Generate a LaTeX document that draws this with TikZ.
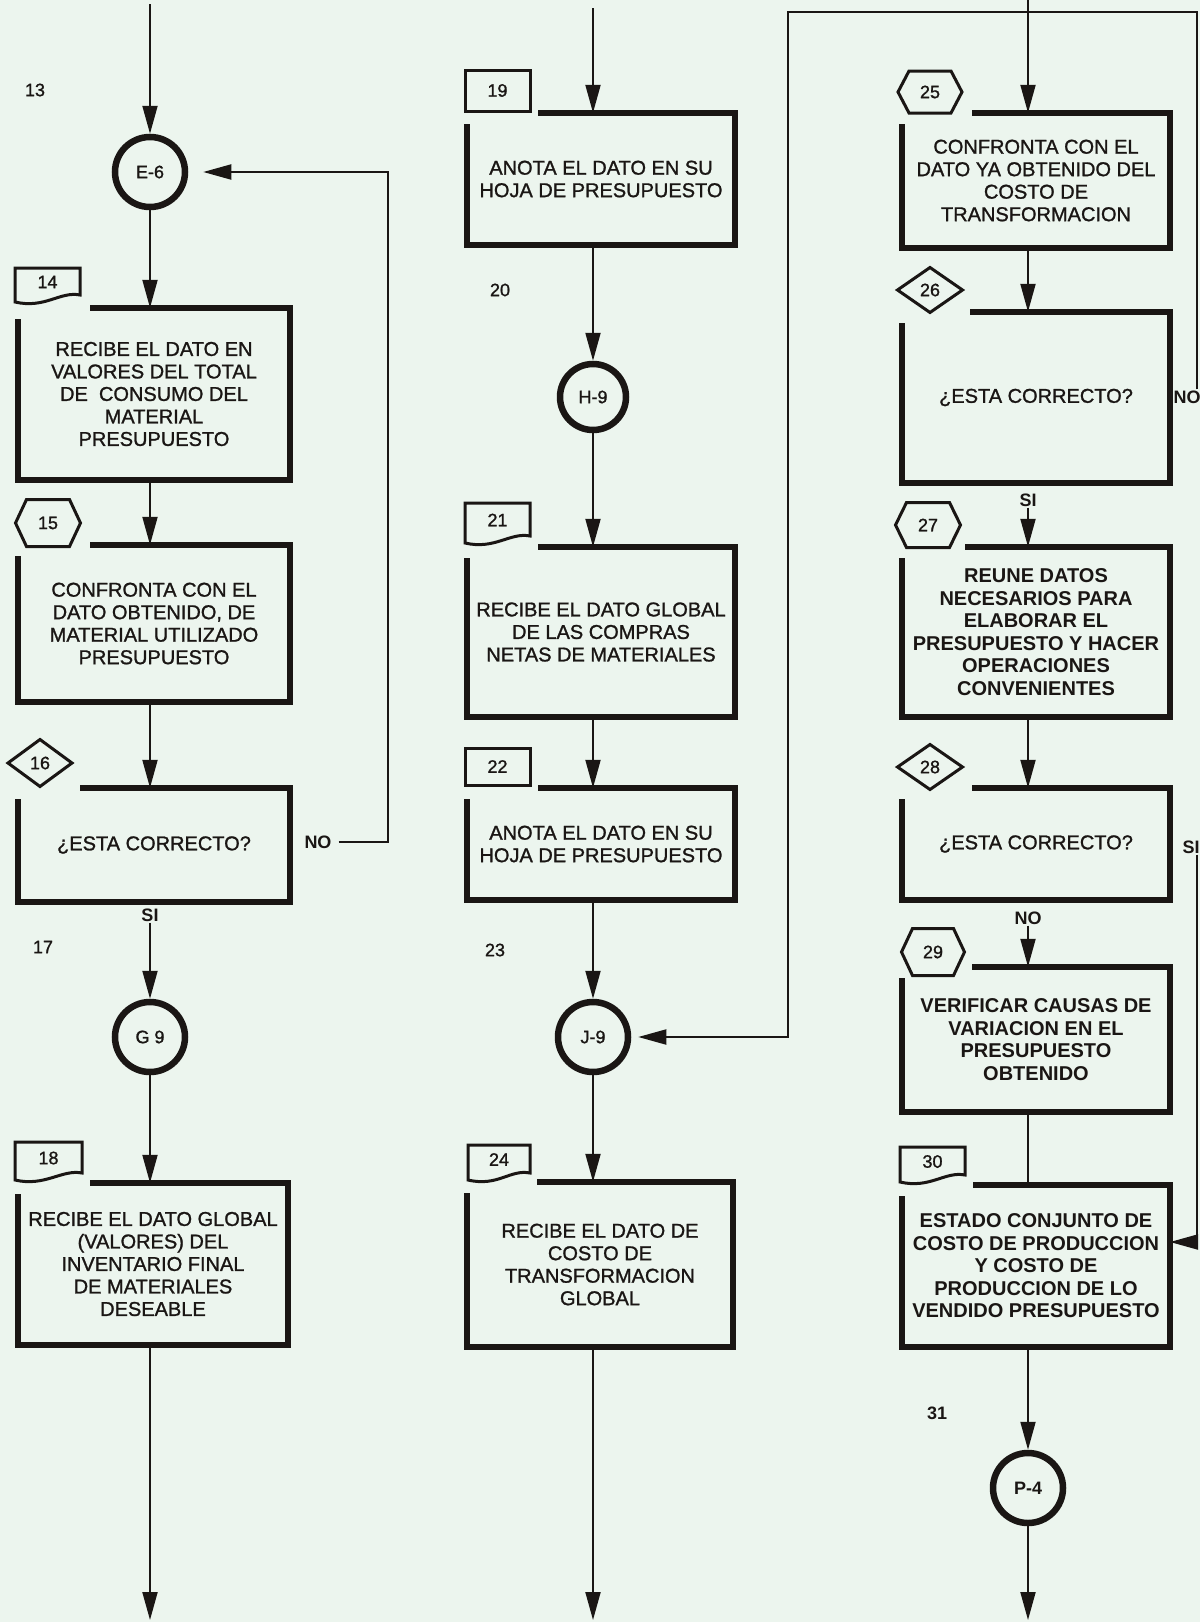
\documentclass[tikz,border=0pt]{standalone}
\usepackage{fontspec}
\setmainfont{Liberation Sans}
\newfontfamily\medfont{Liberation Sans}[BoldFont={Liberation Sans},BoldFeatures={FakeBold=1.2}]
\usetikzlibrary{arrows.meta,calc}
\definecolor{paper}{RGB}{236,245,238}
\definecolor{ink}{RGB}{26,22,20}
\tikzset{
  frame/.style={draw=ink, line width=5.5pt, line join=miter},
  lab/.style={draw=ink, line width=3pt, line join=miter},
  conn/.style={draw=ink, line width=2pt},
  arr/.style={conn, -{Triangle[length=28pt,width=15pt]}},
  boxtext/.style={align=center, inner sep=0pt, text=ink, font=\fontsize{20}{22.5}\selectfont\medfont\bfseries},
  boxbold/.style={boxtext, font=\fontsize{20}{22.5}\selectfont\bfseries},
  tabtext/.style={inner sep=0pt, text=ink, font=\fontsize{18}{18}\selectfont\medfont\bfseries},
  lbl/.style={inner sep=1pt, text=ink, font=\fontsize{18}{18}\selectfont\bfseries},
  numtext/.style={inner sep=0pt, text=ink, font=\fontsize{18}{18}\selectfont\medfont\bfseries},
  conncirc/.style={circle, draw=ink, line width=6.5pt, minimum size=70pt, inner sep=0pt, text=ink, font=\fontsize{18}{18}\selectfont\medfont\bfseries}
}
\newcommand\procbox[8]{%
  \node[#7,minimum width={#4-#2},minimum height={#5-#3}] (#1) at ({(#2+#4)/2},{(#3+#5)/2}) {#8};
  \draw[frame] ({#6},{#3}) -- ({#4},{#3}) -- ({#4},{#5}) -- ({#2},{#5}) -- ({#2},{#3+11});
}
\newcommand\mkdoc[6]{%
  \node[tabtext] (#1) at ({(#2+#4)/2},{(#3+#5)/2-3}) {#6};
  \draw[lab] ({#2},{#5}) -- ({#2},{#3}) -- ({#4},{#3}) -- ({#4},{#5-7}) .. controls ({#4-20},{#5-11}) and ({#2+30},{#5+7}) .. ({#2},{#5}) -- cycle;
}
\newcommand\mkrect[6]{%
  \node[tabtext] (#1) at ({(#2+#4)/2},{(#3+#5)/2}) {#6};
  \draw[lab] ({#2},{#3}) rectangle ({#4},{#5});
}
\newcommand\mkhex[6]{%
  \node[tabtext] (#1) at ({#2},{#3}) {#6};
  \draw[lab] ({#2-#4/2},{#3}) -- ({#2-#4/2+11},{#3-#5/2}) -- ({#2+#4/2-11},{#3-#5/2}) -- ({#2+#4/2},{#3}) -- ({#2+#4/2-11},{#3+#5/2}) -- ({#2-#4/2+11},{#3+#5/2}) -- cycle;
}
\newcommand\mkdiam[6]{%
  \node[tabtext] (#1) at ({#2},{#3}) {#6};
  \draw[lab] ({#2-#4/2},{#3}) -- ({#2},{#3-#5/2}) -- ({#2+#4/2},{#3}) -- ({#2},{#3+#5/2}) -- cycle;
}
\begin{document}
\begin{tikzpicture}[x=1pt,y=-1pt]
\fill[paper] (0,0) rectangle (1200,1622);
\useasboundingbox (0,0) rectangle (1200,1622);

% ---------------- column 1 ----------------
\node[numtext] (n13) at (35,90) {13};
\node[conncirc] (e6) at (150,172) {E-6};
\mkdoc{t14}{15}{268}{80}{302}{14}
\procbox{b14}{18}{308}{290}{480}{90}{boxtext}{RECIBE EL DATO EN\\VALORES DEL TOTAL\\DE\ \ CONSUMO DEL\\MATERIAL\\PRESUPUESTO}
\mkhex{t15}{48}{523}{65}{47}{15}
\procbox{b15}{18}{545}{290}{702}{90}{boxtext}{CONFRONTA CON EL\\DATO OBTENIDO, DE\\MATERIAL UTILIZADO\\PRESUPUESTO}
\mkdiam{t16}{40}{763}{64}{47}{16}
\procbox{b16}{18}{788}{290}{902}{80}{boxtext}{¿ESTA CORRECTO?}
\node[lbl] (no16) at (318,842) {NO};
\node[lbl] (si16) at (150,915) {SI};
\node[numtext] (n17) at (43,947) {17};
\node[conncirc] (g9) at (150,1037) {G 9};
\mkdoc{t18}{15}{1142}{82}{1180}{18}
\procbox{b18}{18}{1183}{288}{1345}{90}{boxtext}{RECIBE EL DATO GLOBAL\\(VALORES) DEL\\INVENTARIO FINAL\\DE MATERIALES\\DESEABLE}

\coordinate (top1) at (150,4);
\coordinate (bot1) at (150,1620);
\coordinate (fb1) at (388,172);
\draw[arr] (top1) -- (e6);
\draw[arr] (e6) -- (e6 |- b14.north);
\draw[arr] (e6 |- b14.south) -- (e6 |- b15.north);
\draw[arr] (e6 |- b15.south) -- (e6 |- b16.north);
\draw[arr] (si16) -- (g9);
\draw[arr] (g9) -- (g9 |- b18.north);
\draw[arr] (g9 |- b18.south) -- (bot1);
\draw[arr, shorten <=6pt, shorten >=15pt] (no16.east) -| (fb1) -- (e6);

% ---------------- column 2 ----------------
\mkrect{t19}{465}{70}{530}{111}{19}
\procbox{b19}{467}{113}{735}{245}{538}{boxtext}{ANOTA EL DATO EN SU\\HOJA DE PRESUPUESTO}
\node[numtext] (n20) at (500,290) {20};
\node[conncirc, minimum size=66pt] (h9) at (593,397) {H-9};
\mkdoc{t21}{465}{503}{530}{543}{21}
\procbox{b21}{467}{547}{735}{717}{538}{boxtext}{RECIBE EL DATO GLOBAL\\DE LAS COMPRAS\\NETAS DE MATERIALES}
\mkrect{t22}{465}{748}{530}{785}{22}
\procbox{b22}{467}{788}{735}{900}{538}{boxtext}{ANOTA EL DATO EN SU\\HOJA DE PRESUPUESTO}
\node[numtext] (n23) at (495,950) {23};
\node[conncirc] (j9) at (593,1037) {J-9};
\mkdoc{t24}{468}{1145}{530}{1180}{24}
\procbox{b24}{467}{1182}{733}{1347}{537}{boxtext}{RECIBE EL DATO DE\\COSTO DE\\TRANSFORMACION\\GLOBAL}

\coordinate (top2) at (593,8);
\coordinate (bot2) at (593,1620);
\draw[arr] (top2) -- (top2 |- b19.north);
\draw[arr] (top2 |- b19.south) -- (h9);
\draw[arr] (h9) -- (h9 |- b21.north);
\draw[arr] (h9 |- b21.south) -- (h9 |- b22.north);
\draw[arr] (h9 |- b22.south) -- (j9);
\draw[arr] (j9) -- (j9 |- b24.north);
\draw[arr] (j9 |- b24.south) -- (bot2);

% ---------------- column 3 ----------------
\mkhex{t25}{930}{92}{64}{42}{\bfseries 25}
\procbox{b25}{902}{113}{1170}{248}{972}{boxtext}{CONFRONTA CON EL\\DATO YA OBTENIDO DEL\\COSTO DE\\TRANSFORMACION}
\mkdiam{t26}{930}{290}{65}{45}{26}
\procbox{b26}{902}{312}{1170}{483}{970}{boxtext}{¿ESTA CORRECTO?}
\node[lbl] (no26) at (1187,397) {NO};
\node[lbl] (si26) at (1028,500) {SI};
\mkhex{t27}{928}{525}{65}{45}{\bfseries 27}
\procbox{b27}{902}{547}{1170}{717}{965}{boxbold}{REUNE DATOS\\NECESARIOS PARA\\ELABORAR EL\\PRESUPUESTO Y HACER\\OPERACIONES\\CONVENIENTES}
\mkdiam{t28}{930}{767}{65}{45}{28}
\procbox{b28}{902}{788}{1170}{900}{972}{boxtext}{¿ESTA CORRECTO?}
\node[lbl] (si28) at (1191,847) {SI};
\node[lbl] (no28) at (1028,918) {NO};
\mkhex{t29}{933}{952}{63}{47}{\bfseries 29}
\procbox{b29}{902}{967}{1170}{1112}{972}{boxbold}{VERIFICAR CAUSAS DE\\VARIACION EN EL\\PRESUPUESTO\\OBTENIDO}
\mkdoc{t30}{900}{1147}{965}{1182}{\bfseries 30}
\procbox{b30}{902}{1185}{1170}{1347}{973}{boxbold}{ESTADO CONJUNTO DE\\COSTO DE PRODUCCION\\Y COSTO DE\\PRODUCCION DE LO\\VENDIDO PRESUPUESTO}
\node[numtext, font=\fontsize{18}{18}\selectfont\bfseries] (n31) at (937,1413) {31};
\node[conncirc, font=\fontsize{18}{18}\selectfont\bfseries] (p4) at (1028,1488) {P-4};

\coordinate (top3) at (1028,0);
\coordinate (bot3) at (1028,1620);
\coordinate (lp1) at (1197,12);
\coordinate (lp2) at (788,12);
\coordinate (in30) at (1170,1242);
\draw[arr] (top3) -- (top3 |- b25.north);
\draw[arr] (top3 |- b25.south) -- (top3 |- b26.north);
\draw[arr] (si26) -- (si26 |- b27.north);
\draw[arr] (top3 |- b27.south) -- (top3 |- b28.north);
\draw[arr] (no28) -- (no28 |- b29.north);
\draw[conn] (top3 |- b29.south) -- (top3 |- b30.north);
\draw[arr] (top3 |- b30.south) -- (p4);
\draw[arr] (p4) -- (bot3);
\draw[arr, shorten >=7pt] (no26.north -| lp1) -- (lp1) -- (lp2) |- (j9);
\draw[arr] (si28.south -| lp1) |- (in30);
\end{tikzpicture}
\end{document}
